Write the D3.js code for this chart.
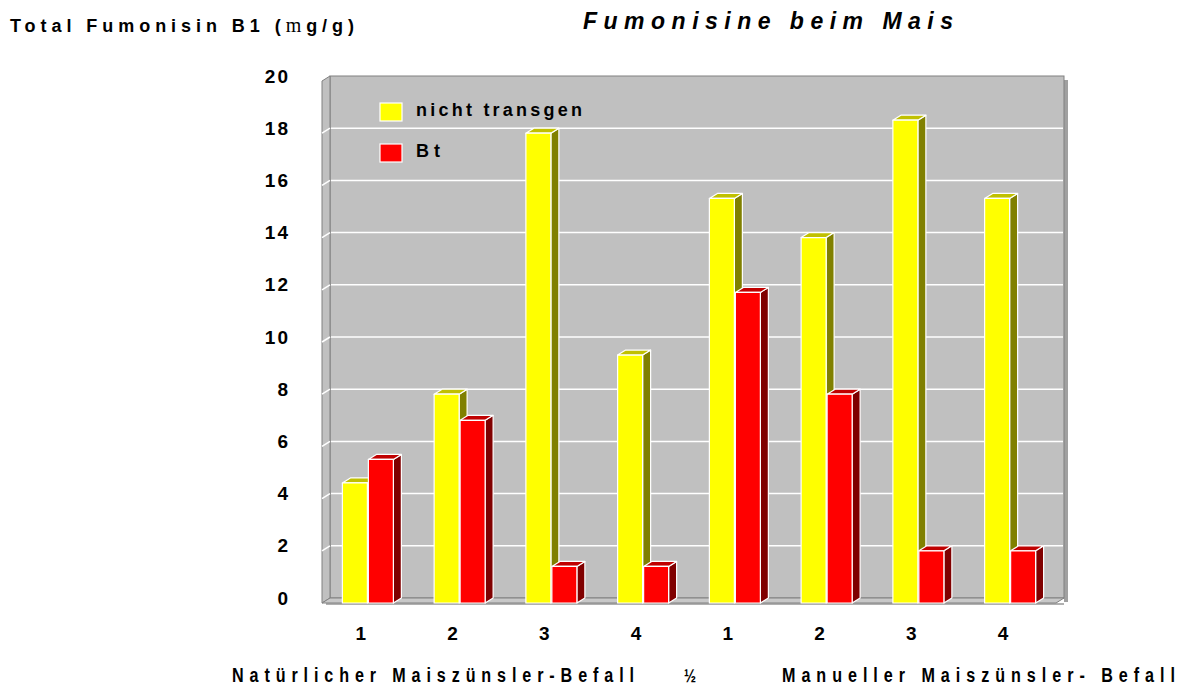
<!DOCTYPE html>
<html>
<head>
<meta charset="utf-8">
<script src="https://cdn.jsdelivr.net/npm/d3@7"></script>
<style>
  body { margin: 0; background: #fff; }
  text { font-family: "Liberation Sans", Arial, sans-serif; font-weight: bold; fill: #000; }
</style>
</head>
<body>
<script>
// Werte
const categories = ["1", "2", "3", "4", "1", "2", "3", "4"];
const seriesNames = ["nicht transgen", "Bt"];
const nichtTransgen = [4.6, 8.0, 18.0, 9.5, 15.5, 14.0, 18.5, 15.5];
const bt = [5.5, 7.0, 1.4, 1.4, 11.9, 8.0, 2.0, 2.0];
const yTicks = [0, 2, 4, 6, 8, 10, 12, 14, 16, 18, 20];
const groupLabels = ["Natürlicher Maiszünsler-Befall", "½", "Manueller Maiszünsler- Befall"];

const width = 1180, height = 686;
const svg = d3.select("body").append("svg").attr("width", width).attr("height", height);

// Geometrie des 3D-Diagramms
const dx = 8, dy = -5;          // Tiefe der Wand
const bdx = 8, bdy = -5;        // Tiefe der Balken
const front = { x0: 322, x1: 1056, y0: 603 };

const x = d3.scaleBand().domain(d3.range(categories.length)).range([front.x0, front.x1]);
const y = d3.scaleLinear().domain([0, 20]).range([598, 76]);   // Rückwand
const yF = v => y(v) - dy;                                       // Vorderkante

const series = [
  { name: seriesNames[0], values: nichtTransgen, face: "#ffff00", top: "#c0c000", side: "#808000" },
  { name: seriesNames[1], values: bt, face: "#ff0000", top: "#c00000", side: "#800000" }
];

const bx0 = front.x0 + dx, bx1 = front.x1 + dx;

// Schatten rechts und unten
svg.append("rect").attr("x", bx1).attr("y", y(20) + 4).attr("width", 4).attr("height", y(0) - y(20))
  .attr("fill", "#a0a0a0");
svg.append("rect").attr("x", front.x0 + 4).attr("y", front.y0).attr("width", front.x1 - front.x0 + 4).attr("height", 2)
  .attr("fill", "#b0b0b0");

// Rückwand
svg.append("rect").attr("x", bx0).attr("y", y(20)).attr("width", bx1 - bx0).attr("height", y(0) - y(20))
  .attr("fill", "#c0c0c0").attr("stroke", "#808080").attr("stroke-width", 1);

// linke Seitenwand
svg.append("polygon")
  .attr("points", [[front.x0, y(20) - dy], [bx0, y(20)], [bx0, y(0)], [front.x0, y(0) - dy]].join(" "))
  .attr("fill", "#c0c0c0").attr("stroke", "#808080").attr("stroke-width", 1);

// Boden
svg.append("polygon")
  .attr("points", [[front.x0, y(0) - dy], [bx0, y(0)], [bx1, y(0)], [front.x1, y(0) - dy]].join(" "))
  .attr("fill", "#c8c8c8").attr("stroke", "#808080").attr("stroke-width", 1);

// Gitternetz
const grid = yTicks.filter(t => t > 0 && t < 20);
svg.selectAll(".grid").data(grid).enter().append("line")
  .attr("x1", bx0 + 1).attr("x2", bx1 - 1)
  .attr("y1", d => y(d)).attr("y2", d => y(d))
  .attr("stroke", "#fff").attr("stroke-width", 1.5);
svg.selectAll(".gridw").data(grid).enter().append("line")
  .attr("x1", front.x0).attr("x2", bx0)
  .attr("y1", d => y(d) - dy).attr("y2", d => y(d))
  .attr("stroke", "#fff").attr("stroke-width", 1.5);

// Balken
const barW = 25, barStep = 26, pairW = barStep + barW;
categories.forEach((c, i) => {
  series.forEach((s, k) => {
    const v = s.values[i];
    const x0 = x(i) + (x.bandwidth() - pairW) / 2 + k * barStep;
    const yt = yF(v), yb = yF(0);
    const g = svg.append("g").attr("stroke", "#fff").attr("stroke-width", 1.2).attr("stroke-linejoin", "round");
    g.append("polygon")
      .attr("points", [[x0 + barW, yt], [x0 + barW + bdx, yt + bdy], [x0 + barW + bdx, yb + bdy], [x0 + barW, yb]].join(" "))
      .attr("fill", s.side);
    g.append("polygon")
      .attr("points", [[x0, yt], [x0 + bdx, yt + bdy], [x0 + barW + bdx, yt + bdy], [x0 + barW, yt]].join(" "))
      .attr("fill", s.top);
    g.append("rect").attr("x", x0).attr("y", yt).attr("width", barW).attr("height", yb - yt)
      .attr("fill", s.face);
  });
});

// y-Achse Beschriftung
svg.selectAll(".ytick").data(yTicks).enter().append("text")
  .attr("x", 290).attr("y", d => y(d))
  .attr("text-anchor", "end").attr("dominant-baseline", "central")
  .attr("font-size", 19).attr("letter-spacing", 2)
  .text(d => d);

// Kategorien
svg.selectAll(".xtick").data(categories).enter().append("text")
  .attr("x", (d, i) => x(i) + x.bandwidth() / 2 - 7)
  .attr("y", 633)
  .attr("text-anchor", "middle").attr("dominant-baseline", "central")
  .attr("font-size", 19)
  .text(d => d);

// Legende
series.forEach((s, k) => {
  const ly = 103 + k * 41;
  svg.append("rect").attr("x", 380).attr("y", ly).attr("width", 22).attr("height", 18)
    .attr("fill", s.face).attr("stroke", "#fff").attr("stroke-width", 1.2);
  svg.append("text").attr("x", 416).attr("y", ly + 13)
    .attr("font-size", 18)
    .attr("textLength", k === 0 ? 166 : 24).attr("lengthAdjust", "spacing")
    .text(s.name);
});

// Titel
svg.append("text").attr("x", 583).attr("y", 29)
  .attr("font-size", 23).attr("font-style", "italic")
  .attr("textLength", 370).attr("lengthAdjust", "spacing")
  .text("Fumonisine beim Mais");

// Achsentitel
const yt = svg.append("text").attr("x", 10).attr("y", 32)
  .attr("font-size", 18)
  .attr("textLength", 344).attr("lengthAdjust", "spacing");
yt.append("tspan").text("Total Fumonisin B1 (");
yt.append("tspan").attr("font-family", "'Liberation Serif', serif").attr("font-weight", "normal").attr("font-size", 20).text("m");
yt.append("tspan").text("g/g)");

// Gruppenbeschriftung unten (schmal gesetzt)
const sx = 0.85;
const gl = [{ t: groupLabels[0], x: 232, w: 402, fs: 19 }, { t: groupLabels[1], x: 684, w: 9, fs: 17 }, { t: groupLabels[2], x: 782, w: 393, fs: 19 }];
gl.forEach(d => {
  svg.append("text")
    .attr("transform", `translate(${d.x},682) scale(${sx},1.05)`)
    .attr("font-size", d.fs)
    .attr("textLength", d.w / sx).attr("lengthAdjust", "spacing")
    .text(d.t);
});
</script>
</body>
</html>
